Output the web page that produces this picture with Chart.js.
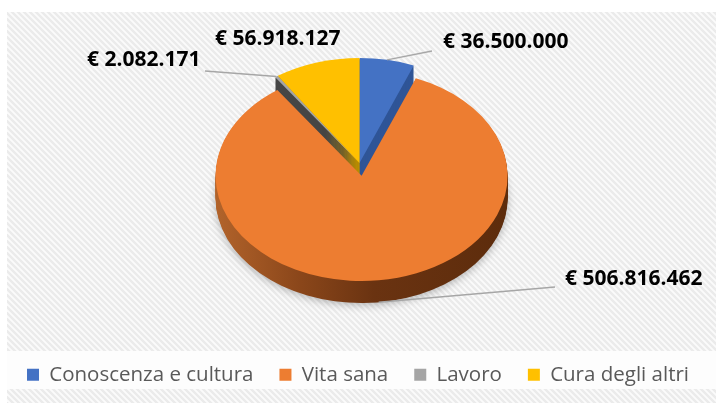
<!DOCTYPE html>
<html><head><meta charset="utf-8">
<script src="https://cdn.jsdelivr.net/npm/chart.js@4/dist/chart.umd.min.js"></script>
<style>html,body{margin:0;padding:0;background:#fff;}#wrap{width:716px;height:403px;}</style>
</head><body><div id="wrap"><canvas id="c" width="716" height="403"></canvas></div>
<script>
// ---- data ----
const categories = ['Conoscenza e cultura', 'Vita sana', 'Lavoro', 'Cura degli altri'];
const values = [36500000, 506816462, 2082171, 56918127];
const colors = ['#4472C4', '#ED7D31', '#A5A5A5', '#FFC000'];
const sideColors = ['#2F5597', null, '#454545', '#BF9000'];
const explode = [0, 18, 0, 0];

// ---- layout ----
const TILT = 0.72, DEPTH = 22, CX = 359.5, CY = 163;
const labelLayout = [
  {x: 443, y: 42, lineEnd: [432, 51], anchor: 'top'},
  {x: 565, y: 279, lineEnd: [555, 287], anchor: 'bottom'},
  {x: 87, y: 60, lineEnd: [205, 71], anchor: 'top'},
  {x: 215, y: 39, lineEnd: null, anchor: 'top'}
];

function fmt(v) { return '€ ' + String(v).replace(/\B(?=(\d{3})+(?!\d))/g, '.'); }
function shift(el, i) { const m = (el.startAngle + el.endAngle) / 2; return [Math.cos(m) * explode[i], Math.sin(m) * explode[i]]; }
function tilt(ctx, el, extraY) { ctx.translate(CX - el.x, CY + extraY - TILT * el.y); ctx.scale(1, TILT); }

const bgPlugin = {
  id: 'bg',
  beforeDraw(chart) {
    const ctx = chart.ctx; ctx.save();
    ctx.fillStyle = '#fff'; ctx.fillRect(0, 0, 716, 403);
    ctx.beginPath(); ctx.rect(7, 12, 709, 391); ctx.clip();
    ctx.fillStyle = '#fbfbfb'; ctx.fillRect(7, 12, 709, 391);
    ctx.strokeStyle = '#ebebeb'; ctx.lineWidth = 2.4;
    for (let t = -420; t < 740; t += 6) { ctx.beginPath(); ctx.moveTo(t, 0); ctx.lineTo(t + 410, 410); ctx.stroke(); }
    ctx.fillStyle = '#fdfdfd'; ctx.fillRect(7, 351, 709, 38);
    ctx.restore();
  }
};

const pie3d = {
  id: 'pie3d',
  beforeDatasetsDraw(chart) {
    const ctx = chart.ctx, meta = chart.getDatasetMeta(0), el0 = meta.data[0];
    const r = el0.outerRadius;
    for (let d = DEPTH; d >= 1; d--) {
      ctx.save(); tilt(ctx, el0, d);
      if (d === DEPTH) { ctx.shadowColor = 'rgba(0,0,0,0.28)'; ctx.shadowBlur = 8; ctx.shadowOffsetY = 2; }
      meta.data.forEach((el, i) => {
        const [dx, dy] = shift(el, i);
        ctx.beginPath(); ctx.moveTo(el.x + dx, el.y + dy);
        ctx.arc(el.x + dx, el.y + dy, el.outerRadius, el.startAngle, el.endAngle); ctx.closePath();
        if (sideColors[i]) ctx.fillStyle = sideColors[i];
        else {
          const g = ctx.createLinearGradient(el.x - r, 0, el.x + r, 0);
          g.addColorStop(0, '#b3642b'); g.addColorStop(0.3, '#8a461a');
          g.addColorStop(0.55, '#6a3311'); g.addColorStop(1, '#5d2c0c');
          ctx.fillStyle = g;
        }
        ctx.fill();
      });
      ctx.restore();
    }
    ctx.save(); tilt(ctx, el0, 0);
    meta.data.forEach((el, i) => {
      if (!el._wrapped) {
        const orig = el.draw;
        el.draw = function (c) { const [dx, dy] = shift(this, i); c.save(); c.translate(dx, dy); orig.call(this, c); c.restore(); };
        el._wrapped = true;
      }
    });
  },
  afterDatasetsDraw(chart) {
    chart.ctx.restore();
    const ctx = chart.ctx, meta = chart.getDatasetMeta(0), el0 = meta.data[0];
    ctx.save();
    meta.data.forEach((el, i) => {
      const L = labelLayout[i];
      if (L.lineEnd) {
        const [dx, dy] = shift(el, i), m = (el.startAngle + el.endAngle) / 2;
        const ux = el.x + dx + el.outerRadius * Math.cos(m), uy = el.y + dy + el.outerRadius * Math.sin(m);
        const px = ux + CX - el0.x, py = CY + TILT * (uy - el0.y) + (L.anchor === 'bottom' ? DEPTH : 0);
        ctx.strokeStyle = '#a6a6a6'; ctx.lineWidth = 1.3;
        ctx.beginPath(); ctx.moveTo(px, py); ctx.lineTo(L.lineEnd[0], L.lineEnd[1]); ctx.stroke();
      }
      ctx.fillStyle = '#000'; ctx.font = 'bold 21px "Open Sans"'; ctx.textBaseline = 'middle'; ctx.textAlign = 'left';
      ctx.fillText(fmt(values[i]), L.x, L.y);
    });
    ctx.restore();
  }
};

new Chart(document.getElementById('c'), {
  type: 'pie',
  data: { labels: categories, datasets: [{ data: values, backgroundColor: colors, borderWidth: 0, radius: 146 }] },
  options: {
    responsive: false, animation: false, events: [],
    layout: { padding: { top: 10, bottom: 8, left: 0, right: 0 } },
    plugins: {
      tooltip: { enabled: false },
      legend: {
        position: 'bottom',
        labels: { boxWidth: 12, boxHeight: 12, padding: 26, color: '#595959', font: { family: 'Open Sans', size: 20.5 } }
      }
    }
  },
  plugins: [bgPlugin, pie3d]
});
</script></body></html>
